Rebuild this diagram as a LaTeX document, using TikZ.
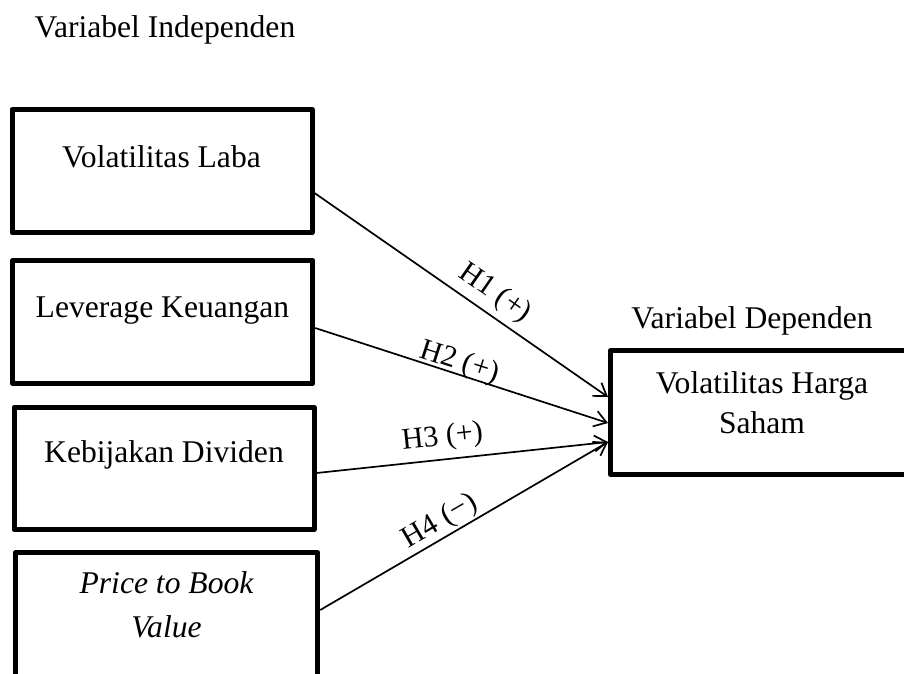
\documentclass[tikz,border=0pt]{standalone}
\usepackage{fontspec}
\setmainfont{Liberation Serif}
\usetikzlibrary{arrows.meta,calc}
\begin{document}
\begin{tikzpicture}[x=1pt,y=-1pt,
  box/.style={draw, line width=5pt, minimum width=300pt, minimum height=123pt, inner sep=0pt, line join=round},
  txt/.style={font=\fontsize{31.6}{42}\selectfont, inner sep=0pt, anchor=base, align=center},
  arr/.style={line width=1.7pt, -{Straight Barb[length=12pt,width=16pt]}},
  lab/.style={font=\fontsize{30}{36}\selectfont, sloped, above}]
\clip (0,0) rectangle (904,673);
\fill[white] (0,0) rectangle (904,673);
% boxes
\node[box] (b1) at (162,171) {};
\node[box] (b2) at (162.7,322) {};
\node[box, minimum height=122pt] (b3) at (164,468.5) {};
\node[box, minimum width=302pt, minimum height=128pt] (b4) at (166.7,616.5) {};
\node[box, minimum height=124pt] (tgt) at (760.5,412.5) {};
% texts
\node[txt] (tindep) at (165,37) {Variabel Independen};
\node[txt] (t1) at (161.5,167) {Volatilitas Laba};
\node[txt] (t2) at (162.5,317) {Leverage Keuangan};
\node[txt] (t3) at (164,462) {Kebijakan Dividen};
\node[txt, font=\fontsize{31.6}{44}\selectfont\itshape] (t4) at (166.5,637) {Price to Book\\Value};
\node[txt] (tdep) at (752,328) {Variabel Dependen};
\node[txt, font=\fontsize{31.6}{40}\selectfont] (t5) at (762,433) {Volatilitas Harga\\Saham};
% arrows
\draw[arr] ($(b1.east)+(0,22)$) -- ($(tgt.west)+(0,-15.5)$)
  node[lab, pos=0.575, inner sep=6pt] (l1) {H1 (+)};
\draw[arr] ($(b2.east)+(0,6)$) -- ($(tgt.west)+(0,10.5)$)
  node[lab, pos=0.48, inner sep=-3pt] (l2) {H2 (+)};
\draw[arr] ($(b3.east)+(0,4.5)$) -- ($(tgt.west)+(0,29.5)$)
  node[lab, pos=0.44, inner sep=7pt] (l3) {H3 (+)};
\draw[arr] ($(b4.east)+(0,-6.5)$) -- ($(tgt.west)+(0,29.5)$)
  node[lab, pos=0.445, inner sep=1.5pt] (l4) {H4 (−)};
\end{tikzpicture}
\end{document}
